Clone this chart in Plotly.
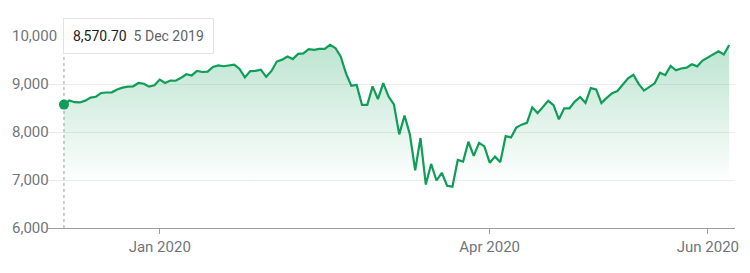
import plotly.graph_objects as go

# ---- data (NASDAQ-style index closes) ----
dates = [
    "2019-12-05", "2019-12-06", "2019-12-09", "2019-12-10", "2019-12-11", "2019-12-12", "2019-12-13",
    "2019-12-16", "2019-12-17", "2019-12-18", "2019-12-19", "2019-12-20", "2019-12-23", "2019-12-24",
    "2019-12-26", "2019-12-27", "2019-12-30", "2019-12-31",
    "2020-01-02", "2020-01-03", "2020-01-06", "2020-01-07", "2020-01-08", "2020-01-09", "2020-01-10",
    "2020-01-13", "2020-01-14", "2020-01-15", "2020-01-16", "2020-01-17", "2020-01-21", "2020-01-22",
    "2020-01-23", "2020-01-24", "2020-01-27", "2020-01-28", "2020-01-29", "2020-01-30", "2020-01-31",
    "2020-02-03", "2020-02-04", "2020-02-05", "2020-02-06", "2020-02-07", "2020-02-10", "2020-02-11",
    "2020-02-12", "2020-02-13", "2020-02-14", "2020-02-18", "2020-02-19", "2020-02-20", "2020-02-21",
    "2020-02-24", "2020-02-25", "2020-02-26", "2020-02-27", "2020-02-28",
    "2020-03-02", "2020-03-03", "2020-03-04", "2020-03-05", "2020-03-06", "2020-03-09", "2020-03-10",
    "2020-03-11", "2020-03-12", "2020-03-13", "2020-03-16", "2020-03-17", "2020-03-18", "2020-03-19",
    "2020-03-20", "2020-03-23", "2020-03-24", "2020-03-25", "2020-03-26", "2020-03-27", "2020-03-30",
    "2020-03-31",
    "2020-04-01", "2020-04-02", "2020-04-03", "2020-04-06", "2020-04-07", "2020-04-08", "2020-04-09",
    "2020-04-13", "2020-04-14", "2020-04-15", "2020-04-16", "2020-04-17", "2020-04-20", "2020-04-21",
    "2020-04-22", "2020-04-23", "2020-04-24", "2020-04-27", "2020-04-28", "2020-04-29", "2020-04-30",
    "2020-05-01", "2020-05-04", "2020-05-05", "2020-05-06", "2020-05-07", "2020-05-08", "2020-05-11",
    "2020-05-12", "2020-05-13", "2020-05-14", "2020-05-15", "2020-05-18", "2020-05-19", "2020-05-20",
    "2020-05-21", "2020-05-22", "2020-05-26", "2020-05-27", "2020-05-28", "2020-05-29",
    "2020-06-01", "2020-06-02", "2020-06-03", "2020-06-04", "2020-06-05",
]

closes = [
    8570.70, 8656.53, 8621.83, 8616.18, 8654.05, 8717.32, 8734.88, 8814.23, 8823.36, 8827.74,
    8887.22, 8924.96, 8945.65, 8952.88, 9022.39, 9006.62, 8945.99, 8972.60,
    9092.19, 9020.77, 9071.47, 9068.58, 9129.24, 9203.43, 9178.86, 9273.93, 9251.33, 9258.70,
    9357.13, 9388.94, 9370.81, 9383.77, 9402.48, 9314.91, 9139.31, 9269.68, 9275.16, 9298.93, 9150.94,
    9273.40, 9467.97, 9508.68, 9572.15, 9520.51, 9628.39, 9638.94, 9725.96, 9711.97, 9731.18,
    9732.74, 9817.18, 9750.97, 9576.59, 9221.28, 8965.61, 8980.78, 8566.48, 8567.37,
    8952.17, 8684.09, 9018.09, 8738.60, 8575.62, 7950.68, 8344.25, 7952.05, 7201.80, 7874.88,
    6904.59, 7334.78, 6989.84, 7150.58, 6879.52, 6860.67, 7417.86, 7384.30, 7797.54, 7502.38,
    7774.15, 7700.10,
    7360.58, 7487.31, 7373.08, 7913.24, 7887.26, 8090.90, 8153.58, 8192.42, 8515.74, 8393.18,
    8532.36, 8650.14, 8560.73, 8263.23, 8495.38, 8494.75, 8634.52, 8730.16, 8607.73, 8914.71, 8889.55,
    8604.95, 8710.71, 8809.12, 8854.39, 8979.66, 9121.32, 9192.34, 9002.55, 8863.17, 8943.72,
    9014.56, 9234.83, 9185.10, 9375.78, 9284.88, 9324.59, 9340.22, 9412.36, 9368.99, 9489.87,
    9552.05, 9608.38, 9682.91, 9615.81, 9814.08,
]

x_tick_dates = ["2020-01-02", "2020-04-01", "2020-06-01"]
x_tick_labels = ["Jan 2020", "Apr 2020", "Jun 2020"]
y_tick_values = [6000, 7000, 8000, 9000, 10000]
y_tick_labels = ["6,000", "7,000", "8,000", "9,000", "10,000"]
tooltip_value = "8,570.70"
tooltip_date = "5 Dec 2019"

# ---- styling / layout geometry ----
GREEN = "#0f9d58"
AXIS_GREY = "#9e9e9e"
LABEL_GREY = "#70757a"
FONT = "Roboto, Arial, sans-serif"

W, H = 750, 273
M_L, M_R, M_T, M_B = 8, 15, 16, 30
PLOT_LEFT, PLOT_TOP, PLOT_BOTTOM = 48, 36, 228      # main plot area in px
Y_MIN, Y_MAX = 6000, 10000
px_per_unit = (PLOT_BOTTOM - PLOT_TOP) / (Y_MAX - Y_MIN)
paper_h = H - M_T - M_B
paper_w = W - M_L - M_R
dom_lo = (H - M_B - PLOT_BOTTOM) / paper_h
dom_hi = (H - M_B - PLOT_TOP) / paper_h
y2_lo = Y_MIN - (H - M_B - PLOT_BOTTOM) / px_per_unit
y2_hi = Y_MAX + (PLOT_TOP - M_T) / px_per_unit

fig = go.Figure()

fig.add_trace(go.Scatter(
    x=dates, y=closes, mode="lines",
    line=dict(color=GREEN, width=2.2),
    fill="tozeroy",
    fillgradient=dict(
        type="vertical",
        colorscale=[[0, "rgba(15,157,88,0)"], [1, "rgba(15,157,88,0.28)"]],
        start=6900, stop=9850,
    ),
    hoverinfo="skip",
))

fig.add_trace(go.Scatter(
    x=[dates[0]], y=[closes[0]], mode="markers",
    marker=dict(color=GREEN, size=10),
    yaxis="y2", hoverinfo="skip",
))

fig.add_shape(
    type="line", xref="x", yref="y domain",
    x0=dates[0], x1=dates[0], y0=0, y1=(PLOT_BOTTOM - 52) / (PLOT_BOTTOM - PLOT_TOP),
    line=dict(color="#9aa0a6", width=1, dash="dot"),
    layer="below",
)

fig.add_annotation(
    x=dates[0], xref="x", y=1.0, yref="y domain",
    xanchor="left", yanchor="middle", xshift=-1,
    text=(f"<span style='color:#202124'>{tooltip_value}</span>&nbsp;&nbsp;"
          f"<span style='color:#5f6368'>{tooltip_date}</span>"),
    font=dict(family=FONT, size=14),
    bgcolor="white", bordercolor="#e2e2e2", borderwidth=1, borderpad=9,
    showarrow=False,
)

fig.update_layout(
    width=W, height=H,
    margin=dict(l=M_L, r=M_R, t=M_T, b=M_B),
    paper_bgcolor="white", plot_bgcolor="rgba(0,0,0,0)",
    showlegend=False,
    font=dict(family=FONT, color=LABEL_GREY, size=15),
    xaxis=dict(
        type="category",
        domain=[(PLOT_LEFT - M_L) / paper_w, 1],
        range=[-3.0, 126.1],
        tickmode="array", tickvals=x_tick_dates, ticktext=x_tick_labels,
        ticks="outside", ticklen=5, tickcolor=AXIS_GREY, tickwidth=1,
        showline=True, linecolor=AXIS_GREY, linewidth=1,
        showgrid=False, zeroline=False,
        tickfont=dict(family=FONT, size=15, color=LABEL_GREY),
    ),
    yaxis=dict(
        domain=[dom_lo, dom_hi],
        range=[Y_MIN, Y_MAX + 1],
        tickmode="array", tickvals=y_tick_values,
        showticklabels=False, ticks="",
        showgrid=True, gridcolor="#ececec", gridwidth=1,
        zeroline=False, showline=False,
    ),
    yaxis2=dict(
        domain=[0, 1], anchor="free", position=0, side="left",
        range=[y2_lo, y2_hi],
        tickmode="array", tickvals=y_tick_values, ticktext=y_tick_labels,
        ticklabelposition="inside", ticks="",
        showgrid=False, zeroline=False, showline=False,
        tickfont=dict(family=FONT, size=15, color=LABEL_GREY),
    ),
)

fig.write_html("out.html")
